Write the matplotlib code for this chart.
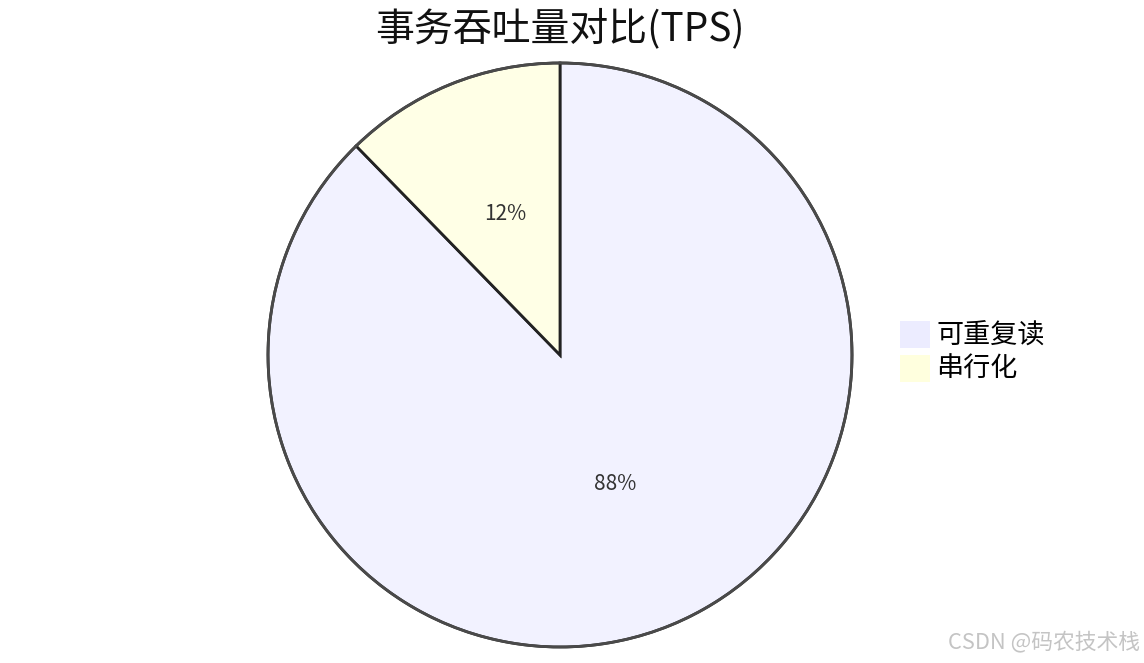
import matplotlib
matplotlib.use("Agg")
import matplotlib.pyplot as plt
import matplotlib.transforms as mtransforms
from matplotlib.patches import Patch

plt.rcParams['font.family'] = ['Noto Sans CJK SC', 'DejaVu Sans']

# 数据
labels = ['可重复读', '串行化']
tps_share = [87.7, 12.3]
slice_colors = ['#F2F2FF', '#FFFFE6']
legend_colors = ['#ECECFF', '#FFFFDE']
title = '事务吞吐量对比(TPS)'

W, H = 1144, 663
fig = plt.figure(figsize=(W / 100, H / 100), dpi=100)
fig.patch.set_facecolor('white')

# pie centre (560, 355) px, radius 292 px
cx, cy, r = 560, 355, 292
ax = fig.add_axes([(cx - r) / W, (H - cy - r) / H, 2 * r / W, 2 * r / H])
wedges, texts, autotexts = ax.pie(
    tps_share, colors=slice_colors, startangle=90, counterclock=False,
    autopct='%.0f%%', pctdistance=0.5,
    wedgeprops=dict(edgecolor='#222222', linewidth=2),
    textprops=dict(fontsize=15, color='#333333'))
for w in wedges:
    w.set_clip_on(False)
# nudge percent labels up a bit
for t in autotexts:
    t.set_transform(mtransforms.offset_copy(ax.transData, fig=fig, x=0, y=6, units='dots'))
ax.add_patch(plt.Circle((0, 0), 1, fill=False, edgecolor='#4a4a4a', linewidth=2, clip_on=False))
ax.set_xlim(-1, 1)
ax.set_ylim(-1, 1)
ax.set_aspect('auto')
ax.axis('off')

fig.text(cx / W, 1 - 29 / H, title, ha='center', va='center', fontsize=28, color='#111111')

handles = [Patch(facecolor=c, edgecolor='none') for c in legend_colors]
fig.legend(handles, labels, loc='center left', bbox_to_anchor=(900 / W, 1 - 352 / H),
           frameon=False, fontsize=19.5, handlelength=1.1, handleheight=1.15,
           handletextpad=0.25, labelspacing=0.2, borderpad=0, borderaxespad=0)

fig.text(1140 / W, 1 - 642 / H, 'CSDN @码农技术栈', ha='right', va='center',
         fontsize=15.7, color='#c4c4c4')

fig.savefig('out.png', dpi=100)
